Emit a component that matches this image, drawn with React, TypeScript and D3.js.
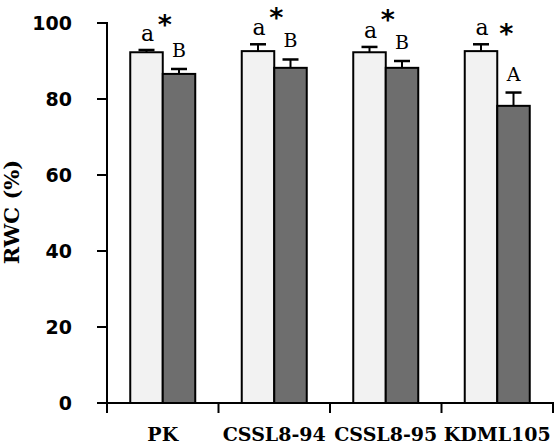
import React from "react";
import * as d3 from "d3";

const categories = ["PK", "CSSL8-94", "CSSL8-95", "KDML105"];
const controlValues = [92.3, 92.6, 92.3, 92.6];
const controlErrors = [0.6, 1.8, 1.4, 1.8];
const stressValues = [86.6, 88.2, 88.2, 78.2];
const stressErrors = [1.3, 2.2, 1.8, 3.5];
const controlLetters = ["a", "a", "a", "a"];
const stressLetters = ["B", "B", "B", "A"];
const significance = ["*", "*", "*", "*"];
const yTicks = [0, 20, 40, 60, 80, 100];

const W = 559;
const H = 445;
const left = 107;
const right = 553;
const top = 23;
const bottom = 403;
const barW = 32.5;

export default function App() {
  const x = d3.scaleBand<string>().domain(categories).range([left, right]).padding(0);
  const y = d3.scaleLinear().domain([0, 100]).range([bottom, top]);
  const boundaries = [left, ...categories.map((c) => (x(c) as number) + x.bandwidth())];

  return (
    <svg
      width={W}
      height={H}
      style={{ position: "absolute", left: 0, top: 0, display: "block", background: "#fff" }}
    >
      {categories.map((c, i) => {
        const cx = (x(c) as number) + x.bandwidth() / 2;
        const series = [
          { v: controlValues[i], e: controlErrors[i], fill: "#f2f2f2", x0: cx - barW },
          { v: stressValues[i], e: stressErrors[i], fill: "#6e6e6e", x0: cx },
        ];
        const aTop = y(controlValues[i] + controlErrors[i]);
        const bTop = y(stressValues[i] + stressErrors[i]);
        const aBase = aTop - 9;
        const bBase = bTop - 12;
        const starY = (aBase + bBase) / 2 - 27.5;
        const starDx = bBase - aBase > 30 ? 9 : 2;
        return (
          <g key={c}>
            {series.map((s, j) => (
              <g key={j}>
                <line
                  x1={s.x0 + barW / 2}
                  x2={s.x0 + barW / 2}
                  y1={y(s.v)}
                  y2={y(s.v + s.e)}
                  stroke="#000"
                  strokeWidth={2}
                />
                <line
                  x1={s.x0 + barW / 2 - 8}
                  x2={s.x0 + barW / 2 + 8}
                  y1={y(s.v + s.e)}
                  y2={y(s.v + s.e)}
                  stroke="#000"
                  strokeWidth={2.5}
                />
                <rect
                  x={s.x0}
                  y={y(s.v)}
                  width={barW}
                  height={bottom - y(s.v)}
                  fill={s.fill}
                  stroke="#000"
                  strokeWidth={2}
                />
              </g>
            ))}
            <text
              x={cx - barW / 2 + 1}
              y={aBase}
              textAnchor="middle"
              fontFamily="DejaVu Serif"
              fontSize={22}
              fill="#000"
            >
              {controlLetters[i]}
            </text>
            <text
              x={cx + barW / 2}
              y={bBase}
              textAnchor="middle"
              fontFamily="DejaVu Serif"
              fontSize={19}
              fill="#000"
            >
              {stressLetters[i]}
            </text>
            <text
              x={cx + starDx}
              y={starY + 13}
              textAnchor="middle"
              fontFamily="DejaVu Sans"
              fontWeight="bold"
              fontSize={27}
              fill="#000"
            >
              {significance[i]}
            </text>
          </g>
        );
      })}

      <line x1={left} x2={left} y1={top - 1} y2={bottom + 1} stroke="#000" strokeWidth={2} />
      {yTicks.map((t) => (
        <g key={t}>
          <line x1={left - 10} x2={left} y1={y(t)} y2={y(t)} stroke="#000" strokeWidth={2} />
          <text
            x={72}
            y={y(t)}
            dy="0.36em"
            textAnchor="end"
            fontFamily="DejaVu Sans"
            fontWeight="bold"
            fontSize={19}
            fill="#000"
          >
            {t}
          </text>
        </g>
      ))}

      <line x1={left - 10} x2={right + 1} y1={bottom} y2={bottom} stroke="#000" strokeWidth={2} />
      {boundaries.map((b, i) => (
        <line key={i} x1={b} x2={b} y1={bottom} y2={bottom + 10} stroke="#000" strokeWidth={2} />
      ))}
      {categories.map((c) => (
        <text
          key={c}
          x={(x(c) as number) + x.bandwidth() / 2}
          y={441}
          textAnchor="middle"
          fontFamily="DejaVu Serif"
          fontWeight="bold"
          fontSize={19}
          fill="#000"
        >
          {c}
        </text>
      ))}

      <text
        transform={`translate(19,212) rotate(-90)`}
        textAnchor="middle"
        fontFamily="DejaVu Serif"
        fontWeight="bold"
        fontSize={21}
        fill="#000"
      >
        RWC (%)
      </text>
    </svg>
  );
}
